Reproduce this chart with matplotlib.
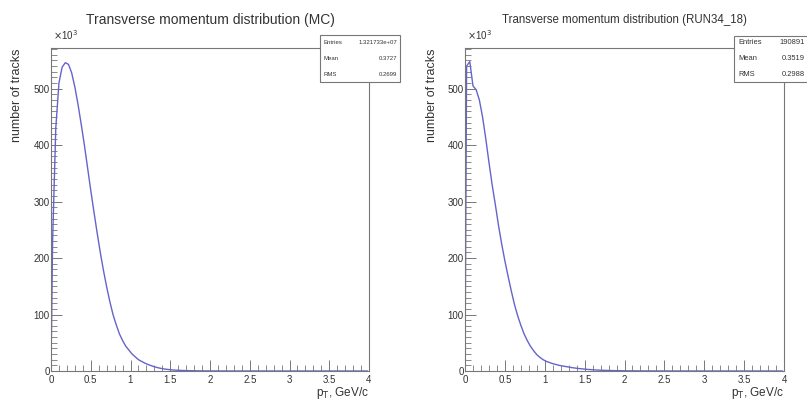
import numpy as np
import matplotlib
matplotlib.use("Agg")
import matplotlib.pyplot as plt
from matplotlib.ticker import MultipleLocator
from matplotlib.patches import Rectangle

plt.rcParams['font.family'] = ['Liberation Sans', 'DejaVu Sans']

# ---- data (counts in units of 10^3) at pT points: 0, then 0.04 GeV/c bin centres ----
pt_points = np.concatenate([[0.0], np.linspace(0.02, 3.98, 100)])

mc_counts = [0,
             230, 430, 510, 538, 546, 543, 528, 503, 472, 437,
             400, 360, 320, 282, 245, 210, 178, 149, 123, 100,
             82, 66, 54, 44, 37, 30, 25, 20, 17, 14,
             11.5, 9.5, 7.5, 6.0, 4.7, 3.7, 2.9, 2.3, 1.8, 1.4,
             1.1, 0.9, 0.7, 0.55, 0.45, 0.35, 0.28, 0.22, 0.18, 0.14,
             0.11, 0.09, 0.07, 0.06, 0.05, 0.04, 0.03, 0.03, 0.02, 0.02,
             0.02, 0.01, 0.01, 0.01, 0.01, 0.01, 0.0, 0.0, 0.0, 0.0,
             0.0, 0.0, 0.0, 0.0, 0.0, 0.0, 0.0, 0.0, 0.0, 0.0,
             0.0, 0.0, 0.0, 0.0, 0.0, 0.0, 0.0, 0.0, 0.0, 0.0,
             0.0, 0.0, 0.0, 0.0, 0.0, 0.0, 0.0, 0.0, 0.0, 0.0]

data_counts = [0,
               540, 548, 505, 498, 480, 450, 412, 370, 330, 295,
               258, 225, 195, 168, 142, 118, 98, 81, 66, 54,
               44, 36, 29, 24, 20, 17, 15, 13, 11.5, 10,
               9, 8, 7, 6, 5.2, 4.5, 3.9, 3.3, 2.8, 2.4,
               2.0, 1.7, 1.4, 1.2, 1.0, 0.85, 0.7, 0.6, 0.5, 0.42,
               0.35, 0.3, 0.25, 0.21, 0.18, 0.15, 0.12, 0.1, 0.09, 0.08,
               0.07, 0.06, 0.05, 0.04, 0.04, 0.03, 0.03, 0.02, 0.02, 0.02,
               0.02, 0.01, 0.01, 0.01, 0.01, 0.01, 0.01, 0.01, 0.0, 0.0,
               0.0, 0.0, 0.0, 0.0, 0.0, 0.0, 0.0, 0.0, 0.0, 0.0,
               0.0, 0.0, 0.0, 0.0, 0.0, 0.0, 0.0, 0.0, 0.0, 0.0]

titles = ["Transverse momentum distribution (MC)",
          "Transverse momentum distribution (RUN34_18)"]
title_sizes = [10, 8.3]
stats_labels = ["Entries", "Mean", "RMS"]
mc_stats = ["1.321733e+07", "0.3727", "0.2699"]
data_stats = ["190891", "0.3519", "0.2988"]

W, H = 807, 403
fig = plt.figure(figsize=(W / 100, H / 100), dpi=100)
fig.patch.set_facecolor("white")

line_color = "#6464cc"
frame_color = "#777777"
text_color = "#333333"


def px_axes(x0, x1, ytop, ybot):
    return fig.add_axes([x0 / W, 1 - ybot / H, (x1 - x0) / W, (ybot - ytop) / H])


panels = [
    dict(ax=(51, 369, 48, 371), counts=mc_counts, title=titles[0], tsize=title_sizes[0],
         stats=mc_stats, box=(320, 400, 35, 82), val_x=397, lab_x=324, ssize=4.3,
         ylab_x=17),
    dict(ax=(465, 784, 48, 371), counts=data_counts, title=titles[1], tsize=title_sizes[1],
         stats=data_stats, box=(734, 830, 36, 82), val_x=805, lab_x=738, ssize=5.4,
         ylab_x=432),
]

for p in panels:
    x0, x1, yt, yb = p["ax"]
    ax = px_axes(x0, x1, yt, yb)
    ax.plot(pt_points, p["counts"], color=line_color, lw=1.0)
    ax.set_xlim(0, 4)
    ax.set_ylim(0, 572)
    ax.xaxis.set_major_locator(MultipleLocator(0.5))
    ax.xaxis.set_minor_locator(MultipleLocator(0.1))
    ax.yaxis.set_major_locator(MultipleLocator(100))
    ax.yaxis.set_minor_locator(MultipleLocator(10))
    ax.tick_params(which="both", direction="in", colors=frame_color,
                   labelcolor=text_color, labelsize=7, top=False, right=False)
    ax.tick_params(which="major", length=8, width=0.7)
    ax.tick_params(which="minor", length=4, width=0.6)
    ax.tick_params(axis="x", pad=3)
    ax.tick_params(axis="y", pad=1)
    for s in ax.spines.values():
        s.set_color(frame_color)
        s.set_linewidth(0.8)
    xt = [0, 0.5, 1, 1.5, 2, 2.5, 3, 3.5, 4]
    ax.set_xticks(xt)
    ax.set_xticklabels(["0", "0.5", "1", "1.5", "2", "2.5", "3", "3.5", "4"])
    ax.set_yticks([0, 100, 200, 300, 400, 500])
    ax.set_yticklabels(["0", "100", "200", "300", "400", "500"])

    # title
    fig.text((x0 + x1) / 2 / W, 1 - 20 / H, p["title"], ha="center", va="center",
             fontsize=p["tsize"], color=text_color)
    # x10^3 multiplier
    fig.text((x0 + 2) / W, 1 - 42 / H, r"$\times$10$^{3}$", ha="left", va="bottom",
             fontsize=7, color=text_color)
    # y label
    fig.text(p["ylab_x"] / W, 1 - 48 / H, "number of tracks", rotation=90,
             ha="center", va="top", fontsize=9, color=text_color)
    # x label
    fig.text(x1 / W, 1 - 393 / H, r"p$_{\rm T}$, GeV/c", ha="right", va="center",
             fontsize=8.5, color=text_color)

    # stats box
    bx0, bx1, by0, by1 = p["box"]
    fig.patches.append(Rectangle((bx0 / W, 1 - by1 / H), (bx1 - bx0) / W, (by1 - by0) / H,
                                 transform=fig.transFigure, facecolor="white",
                                 edgecolor=frame_color, lw=0.8, zorder=5))
    for i, (lab, val) in enumerate(zip(stats_labels, p["stats"])):
        yy = 1 - (43 + i * 15.5) / H
        fig.text(p["lab_x"] / W, yy, lab, ha="left", va="center",
                 fontsize=p["ssize"], color=text_color, zorder=6)
        fig.text(p["val_x"] / W, yy, val, ha="right", va="center",
                 fontsize=p["ssize"], color=text_color, zorder=6)

fig.savefig("out.png", dpi=100)
